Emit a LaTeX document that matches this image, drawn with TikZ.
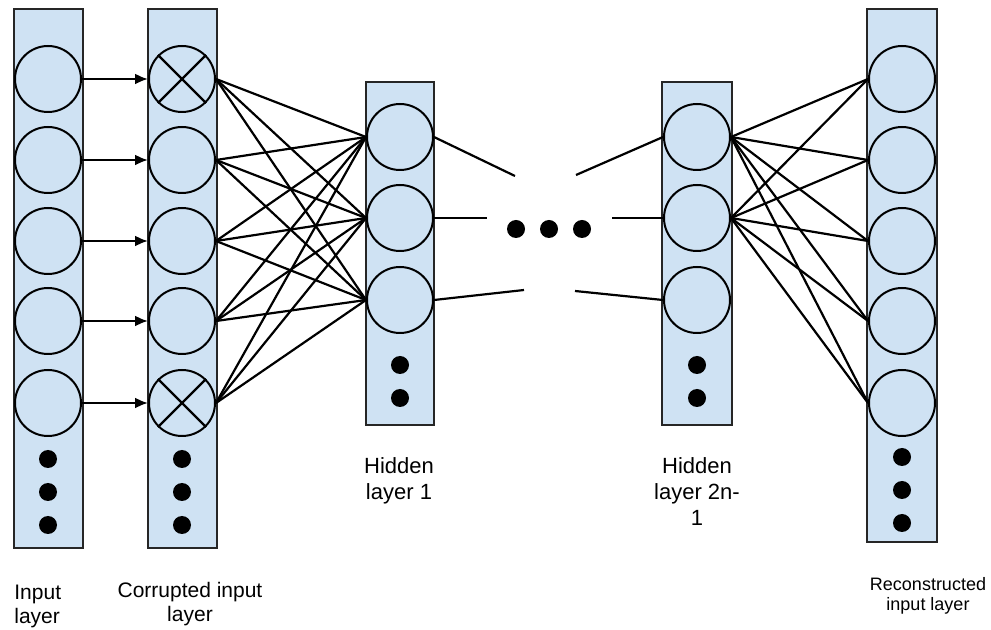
\documentclass[tikz,border=0pt]{standalone}
\usepackage{fontspec}
\setmainfont{Liberation Sans}
\usetikzlibrary{arrows.meta}
\definecolor{layerblue}{HTML}{CFE2F3}

\begin{document}
\begin{tikzpicture}[x=0.5pt,y=-0.5pt,
    layer/.style={draw=black!85,line width=1.3pt,fill=layerblue},
    neuron/.style={circle,draw,line width=1pt,minimum size=33pt,inner sep=0pt},
    link/.style={line width=1.1pt},
    dot/.style={circle,fill=black,minimum size=9pt,inner sep=0pt},
    lbl/.style={align=center,inner sep=0pt,font=\fontsize{10.5}{12}\selectfont}]
  \useasboundingbox (0,0) rectangle (991,630);

  \draw[layer] (14,9) rectangle (83,548);
  \draw[layer] (148,9) rectangle (217,548);
  \draw[layer] (366,82) rectangle (434,425);
  \draw[layer] (662,82) rectangle (732,425);
  \draw[layer] (867,9) rectangle (937,542);

  \foreach \i/\y in {1/79,2/160,3/241,4/321,5/403} {
    \node[neuron] (in\i) at (48,\y) {};
    \node[neuron] (cor\i) at (182,\y) {};
    \node[neuron] (out\i) at (902,\y) {};
  }
  \foreach \i/\y in {1/137,2/218,3/300} {
    \node[neuron] (hA\i) at (400,\y) {};
    \node[neuron] (hB\i) at (697,\y) {};
  }
  \foreach \i in {1,5} {
    \draw[link] (cor\i.north west) -- (cor\i.south east);
    \draw[link] (cor\i.north east) -- (cor\i.south west);
  }

  \foreach \y/\z [count=\k] in {459/457,492/490,525/523} {
    \node[dot] (inDot\k) at (48,\y) {};
    \node[dot] (corDot\k) at (182,\y) {};
    \node[dot] (outDot\k) at (902,\z) {};
  }
  \foreach \y [count=\k] in {365,398} {
    \node[dot] (hADot\k) at (400,\y) {};
    \node[dot] (hBDot\k) at (697,\y) {};
  }
  \foreach \x [count=\k] in {516,549,582}
    \node[dot] (skip\k) at (\x,229) {};

  \foreach \i in {1,...,5}
    \draw[link,-{Latex[length=6.5pt,width=5.5pt]}] (in\i.east) -- (cor\i.west);
  \foreach \i in {1,...,5}
    \foreach \j in {1,2,3}
      \draw[link] (cor\i.east) -- (hA\j.west);
  \foreach \i in {1,2}
    \foreach \j in {1,...,5}
      \draw[link] (hB\i.east) -- (out\j.west);

  \coordinate (gapA1) at (515,176);
  \coordinate (gapA2) at (487,218);
  \coordinate (gapA3) at (524,290);
  \coordinate (gapB1) at (576,175);
  \coordinate (gapB2) at (612,218);
  \coordinate (gapB3) at (575,291);
  \foreach \i in {1,2,3} {
    \draw[link] (hA\i.east) -- (gapA\i);
    \draw[link] (gapB\i) -- (hB\i.west);
  }

  \node[lbl,anchor=north west,align=left] (inLbl) at (14,585) {Input\\layer};
  \node[lbl,anchor=north] (corLbl) at (190,582) {Corrupted input\\layer};
  \node[lbl,anchor=north,font=\fontsize{11}{13}\selectfont] (hALbl) at (399,457) {Hidden\\layer 1};
  \node[lbl,anchor=north,font=\fontsize{11}{13}\selectfont] (hBLbl) at (697,457) {Hidden\\layer 2n-\\1};
  \node[lbl,anchor=north,font=\fontsize{9}{10}\selectfont] (outLbl) at (928,577) {Reconstructed\\input layer};
\end{tikzpicture}
\end{document}
